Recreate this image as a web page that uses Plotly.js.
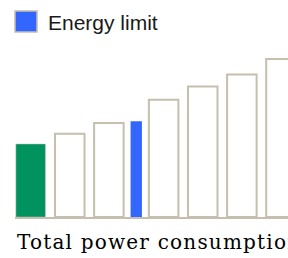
<!DOCTYPE html>
<html>
<head>
<meta charset="utf-8">
<script src="https://cdn.plot.ly/plotly-3.0.1.min.js"></script>
<style>html,body{margin:0;padding:0;background:#fff;}#chart{width:288px;height:258px;}</style>
</head>
<body>
<div id="chart"></div>
<script>
// ---- data ----
const scenarios = ['Current', 'Option 1', 'Option 2', 'Option 3', 'Option 4', 'Option 5', 'Option 6'];
const slots = [1, 2, 3, 4.4, 5.4, 6.4, 7.4];
const consumption = [45.6, 52, 58.8, 73.3, 81.6, 89, 98.8];
const limitName = ['Energy limit'];
const limitSlot = [3.7];
const limitValue = [59.8];
const legendLabel = 'Energy limit';
const xTitle = 'Total power consumption';

// ---- styles ----
const BEIGE = '#c6bfad';
const GREEN = '#00925f';
const BLUE = '#3366ff';
const fillColors = scenarios.map((s, i) => i === 0 ? GREEN : '#ffffff');
const lineColors = scenarios.map((s, i) => i === 0 ? 'rgba(198,191,173,0.5)' : BEIGE);
const lineWidths = scenarios.map((s, i) => i === 0 ? 1 : 2);

const traces = [
  {
    type: 'bar',
    x: slots,
    y: consumption,
    text: scenarios,
    hoverinfo: 'text+y',
    textposition: 'none',
    width: 0.755,
    marker: { color: fillColors, line: { color: lineColors, width: lineWidths } },
    showlegend: false
  },
  {
    type: 'bar',
    x: limitSlot,
    y: limitValue,
    text: limitName,
    hoverinfo: 'text+y',
    textposition: 'none',
    width: 0.29,
    marker: { color: BLUE, line: { width: 0 } },
    showlegend: false
  }
];

const W = 288, H = 258;
const M = { l: 15, r: 0, t: 40, b: 41 };
const pw = W - M.l - M.r, ph = H - M.t - M.b;
const px2x = px => (px - M.l) / pw;
const py2y = py => (H - M.b - py) / ph;

const layout = {
  width: W, height: H,
  margin: { l: M.l, r: M.r, t: M.t, b: M.b, pad: 0 },
  paper_bgcolor: '#ffffff',
  plot_bgcolor: '#ffffff',
  barmode: 'overlay',
  showlegend: false,
  xaxis: {
    range: [0.6, 7.58],
    showgrid: false, zeroline: false, showticklabels: false, ticks: '',
    showline: true, linecolor: BEIGE, linewidth: 2,
    fixedrange: true
  },
  yaxis: {
    range: [0, 110.6],
    visible: false, showgrid: false, zeroline: false,
    fixedrange: true
  },
  shapes: [
    {
      type: 'rect', xref: 'paper', yref: 'paper',
      x0: px2x(15), x1: px2x(37), y0: py2y(32), y1: py2y(11),
      fillcolor: BLUE, line: { color: BEIGE, width: 1.5 }
    }
  ],
  annotations: [
    {
      text: legendLabel, xref: 'paper', yref: 'paper',
      x: px2x(46), y: py2y(22), xanchor: 'left', yanchor: 'middle',
      showarrow: false,
      font: { family: 'Liberation Sans, Arial, sans-serif', size: 21, color: '#1a1a1a' }
    },
    {
      text: xTitle, xref: 'paper', yref: 'paper',
      x: px2x(15), y: py2y(242), xanchor: 'left', yanchor: 'middle',
      showarrow: false,
      font: { family: 'DejaVu Serif, serif', size: 20, color: '#000000', weight: 500 }
    }
  ]
};

Plotly.newPlot('chart', traces, layout, { staticPlot: true, displayModeBar: false }).then(gd => {
  const t = gd.querySelectorAll('.annotation-text');
  if (t.length > 1) {
    const el = t[1];
    const before = el.getBBox();
    el.style.letterSpacing = '1.2px';
    const after = el.getBBox();
    el.setAttribute('transform', 'translate(' + (before.x - after.x) + ',0)');
  }
});
</script>
</body>
</html>
